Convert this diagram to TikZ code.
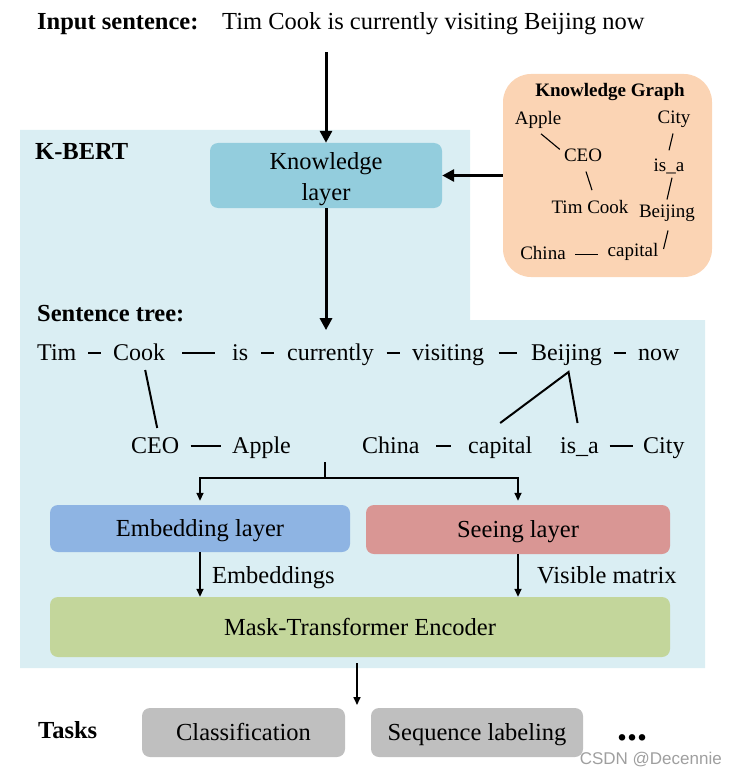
\documentclass[tikz,border=0pt]{standalone}
\usepackage{fontspec}
\setmainfont{Liberation Serif}
\newfontfamily\wmfont{Liberation Sans}
\usetikzlibrary{arrows.meta,calc}
\definecolor{bgblue}{HTML}{DAEEF3}
\definecolor{klblue}{HTML}{93CDDD}
\definecolor{kgpeach}{HTML}{FBD4B4}
\definecolor{embblue}{HTML}{8EB4E3}
\definecolor{seered}{HTML}{D99694}
\definecolor{maskgreen}{HTML}{C3D69B}
\definecolor{taskgray}{HTML}{BFBFBF}
\tikzset{
  txt/.style={font=\fontsize{24.5}{28}\selectfont, inner sep=0pt},
  boldtxt/.style={font=\fontsize{24.5}{28}\selectfont\bfseries, inner sep=0pt},
  word/.style={font=\fontsize{24}{28}\selectfont, inner sep=0pt, anchor=base west},
  kgw/.style={font=\fontsize{19}{22}\selectfont, inner sep=0pt},
  box/.style={rounded corners=8pt, inner sep=0pt, font=\fontsize{24.5}{31}\selectfont, align=center, text height=19pt, text depth=3pt},
  bigarrow/.style={line width=3pt, -{Triangle[length=12pt,width=12pt]}},
  thinarrow/.style={line width=1.6pt, -{Triangle[length=8pt,width=7pt]}},
  tl/.style={line width=2pt},
  kgl/.style={line width=1.1pt},
}
\newcommand\tdash[3]{\draw[tl] ($(#1.base east)!0.5!(#2.base west)+(-#3/2,-7)$) -- ++(#3,0);}
\begin{document}
\begin{tikzpicture}[x=1pt,y=-1pt]
\useasboundingbox (0,0) rectangle (734,778);
% background
\fill[bgblue] (20,130) -- (470,130) -- (470,320) -- (705,320) -- (705,668) -- (20,668) -- cycle;

% input sentence
\node[boldtxt, anchor=base west] (inlab) at (37,30) {Input sentence:};
\node[txt, anchor=base west] (sent) at (222,30) {Tim Cook is currently visiting Beijing now};

\node[boldtxt, anchor=west] (kbert) at (35,152) {K-BERT};

% knowledge layer
\node[rounded corners=8pt, fill=klblue, minimum width=232pt, minimum height=65pt, inner sep=0pt] (kl) at (326,175.5) {};
\node[txt, anchor=base] (kltop) at (326,170) {Knowledge};
\node[txt, anchor=base] (klbot) at (326,200) {layer};

% knowledge graph
\node[rounded corners=28pt, fill=kgpeach, minimum width=209pt, minimum height=203pt, inner sep=0pt] (kg) at (607.5,175.5) {};
\node[kgw, font=\fontsize{19}{22}\selectfont\bfseries] (kgt) at (610,92) {Knowledge Graph};
\node[kgw] (kapple) at (538,120) {Apple};
\node[kgw] (kcity) at (674,119) {City};
\node[kgw] (kceo) at (583,155) {CEO};
\node[kgw] (kisa) at (669,166) {is\_a};
\node[kgw] (ktim) at (590,207) {Tim Cook};
\node[kgw] (kbei) at (667,213) {Beijing};
\node[kgw] (kchina) at (543,253) {China};
\node[kgw] (kcap) at (633,252) {capital};
\draw[kgl] ($(kapple.south)+(3,5)$) -- ($(kceo.north west)+(-4,1)$);
\draw[kgl] ($(kceo.south)+(3,10)$) -- ($(ktim.north)+(2,-10)$);
\draw[kgl] ($(kcity.south)+(-1,6)$) -- ($(kisa.north)+(0,-8)$);
\draw[kgl] ($(kisa.south)+(3,4)$) -- ($(kbei.north)+(0,-5)$);
\draw[kgl] ($(kbei.south)+(1,9)$) -- ($(kcap.east)+(5,-3)$);
\draw[kgl] ($(kchina.east)!0.5!(kcap.west)+(-11.5,2)$) -- ++(23,0);

% sentence tree
\node[boldtxt, anchor=west] (st) at (37,314) {Sentence tree:};
\node[word] (tim) at (37,360) {Tim};
\node[word] (cook) at (113,360) {Cook};
\node[word] (is) at (232,360) {is};
\node[word] (cur) at (287,360) {currently};
\node[word] (vis) at (412,360) {visiting};
\node[word] (bei) at (531,360) {Beijing};
\node[word] (now) at (638,360) {now};
\node[word] (ceo) at (131,453) {CEO};
\node[word] (apple) at (232,453) {Apple};
\node[word] (china) at (362,453) {China};
\node[word] (cap) at (468,453) {capital};
\node[word] (isa) at (560,453) {is\_a};
\node[word] (city) at (643,453) {City};
\tdash{tim}{cook}{13}
\tdash{cook}{is}{33}
\tdash{is}{cur}{13}
\tdash{cur}{vis}{13}
\tdash{vis}{bei}{18}
\tdash{bei}{now}{12}
\tdash{ceo}{apple}{30}
\tdash{china}{cap}{15}
\tdash{isa}{city}{23}
\draw[tl] ($(cook.base)+(6,10)$) -- ($(ceo.base)+(2,-25)$);
\draw[tl] ($(cap.base)+(0,-30)$) -- ($(bei.base)+(2,12)$) -- ($(isa.base)+(-2,-30)$);

% arrows top
\draw[bigarrow, shorten <=17pt] (sent.south -| kl.north) -- (kl.north);
\draw[bigarrow] (kg.west) -- (kl.east);
\draw[bigarrow, shorten >=13pt] (kl.south) -- (kl.south |- cur.north);

% layers
\node[box, fill=embblue, minimum width=300pt, minimum height=47pt] (emb) at (200,528.5) {Embedding layer};
\node[box, fill=seered, minimum width=304pt, minimum height=49pt] (see) at (518,529.5) {Seeing layer};
\node[box, fill=maskgreen, minimum width=620pt, minimum height=60pt] (mask) at (360,627) {Mask-Transformer Encoder};

\coordinate (forktop) at (325,462);
\coordinate (fork) at (325,478);
\draw[line width=1.6pt] (forktop) -- (fork);
\draw[thinarrow, shorten >=4pt] (fork) -- (fork -| emb.north) -- (emb.north);
\draw[thinarrow, shorten >=4pt] (fork) -- (fork -| see.north) -- (see.north);

\draw[thinarrow] (emb.south) -- (emb.south |- mask.north);
\draw[thinarrow] (see.south) -- (see.south |- mask.north);
\node[txt, anchor=west] (lemb) at (212,578) {Embeddings};
\node[txt, anchor=west] (lvis) at (537,575) {Visible matrix};

% tasks
\coordinate (tasktip) at (357,705);
\draw[thinarrow, shorten <=6pt] (mask.south -| tasktip) -- (tasktip);
\node[boldtxt, anchor=west] (tasks) at (38,730) {Tasks};
\node[box, fill=taskgray, minimum width=203pt, minimum height=49pt] (cls) at (243.5,732.5) {Classification};
\node[box, fill=taskgray, minimum width=212pt, minimum height=49pt] (seq) at (477,732.5) {Sequence labeling};
\node[inner sep=0pt, font=\fontsize{40}{44}\selectfont\bfseries] (dots) at (632,738) {...};

\node[inner sep=0pt, font=\wmfont\fontsize{17}{20}\selectfont, text=gray!75, anchor=east] (wm) at (722,760) {CSDN @Decennie};
\end{tikzpicture}
\end{document}
